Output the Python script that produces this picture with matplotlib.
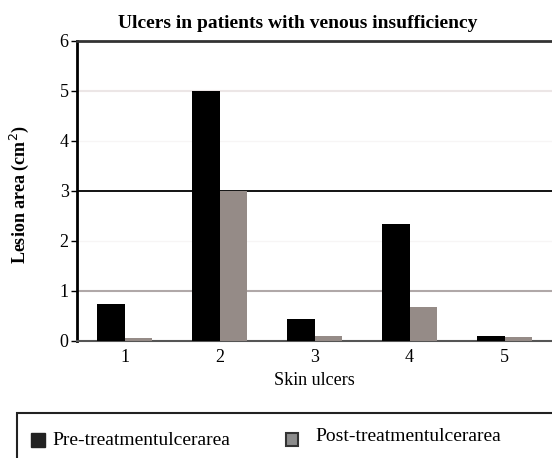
import numpy as np
import matplotlib
matplotlib.use("Agg")
import matplotlib.pyplot as plt
import matplotlib.patches as mpatches

ulcers = [1, 2, 3, 4, 5]
pre = [0.74, 5.0, 0.43, 2.33, 0.10]    # pre-treatment ulcer area
post = [0.06, 3.0, 0.10, 0.68, 0.07]   # post-treatment ulcer area

plt.rcParams['font.family'] = ['Liberation Serif', 'DejaVu Serif']

fig = plt.figure(figsize=(5.52, 4.58), dpi=100)
ax = fig.add_axes([0.1395, 0.2555, 0.8605, 0.655])

x = np.arange(len(ulcers)) + 1
w = 0.29
ax.bar(x - w/2, pre, width=w, color='black', zorder=3)
ax.bar(x + w/2, post, width=w, color='#958b87', zorder=3)

# grid lines as in the original
ax.axhline(5, color='#ece6e6', lw=1.5, zorder=1)
ax.axhline(4, color='#f7f5f5', lw=1, zorder=1)
ax.axhline(3, color='black', lw=1.3, zorder=1)
ax.axhline(2, color='#f7f5f5', lw=1, zorder=1)
ax.axhline(1, color='#b0a8a8', lw=1.5, zorder=1)

ax.set_xlim(0.5, 5.5)
ax.set_ylim(0, 6)
ax.set_yticks([0, 1, 2, 3, 4, 5, 6])
ax.set_xticks(x)
ax.set_xticklabels([str(u) for u in ulcers])
ax.tick_params(axis='y', length=4, width=1, labelsize=13, pad=2)
ax.tick_params(axis='x', length=0, labelsize=13, pad=6)

ax.spines['left'].set_linewidth(2)
ax.spines['top'].set_linewidth(2)
ax.spines['top'].set_color('#333333')
ax.spines['bottom'].set_color('#555555')
ax.spines['bottom'].set_linewidth(1.5)
ax.spines['right'].set_visible(False)

ax.set_title('Ulcers in patients with venous insufficiency',
             fontsize=14, fontweight='bold', pad=9, x=0.465)
ax.set_xlabel('Skin ulcers', fontsize=13, labelpad=4)
fig.text(0.036, 0.575, 'Lesion area (cm$^2$)', rotation=90, fontsize=13,
         fontweight='bold', ha='center', va='center')

# legend box at the bottom
fig.patches.append(mpatches.Rectangle((0.031, -0.02), 1.0, 0.118, fill=False,
                                      edgecolor='#222222', lw=1.5,
                                      transform=fig.transFigure))
fig.patches.append(mpatches.Rectangle((0.056, 0.024), 0.025, 0.031,
                                      facecolor='#222222', edgecolor='#222222',
                                      transform=fig.transFigure))
fig.text(0.095, 0.039, 'Pre-treatmentulcerarea', fontsize=14, va='center')
fig.patches.append(mpatches.Rectangle((0.518, 0.026), 0.022, 0.029,
                                      facecolor='#8c8c8c', edgecolor='#333333',
                                      lw=1.5, transform=fig.transFigure))
fig.text(0.572, 0.046, 'Post-treatmentulcerarea', fontsize=14, va='center')

fig.savefig('out.png', dpi=100)
